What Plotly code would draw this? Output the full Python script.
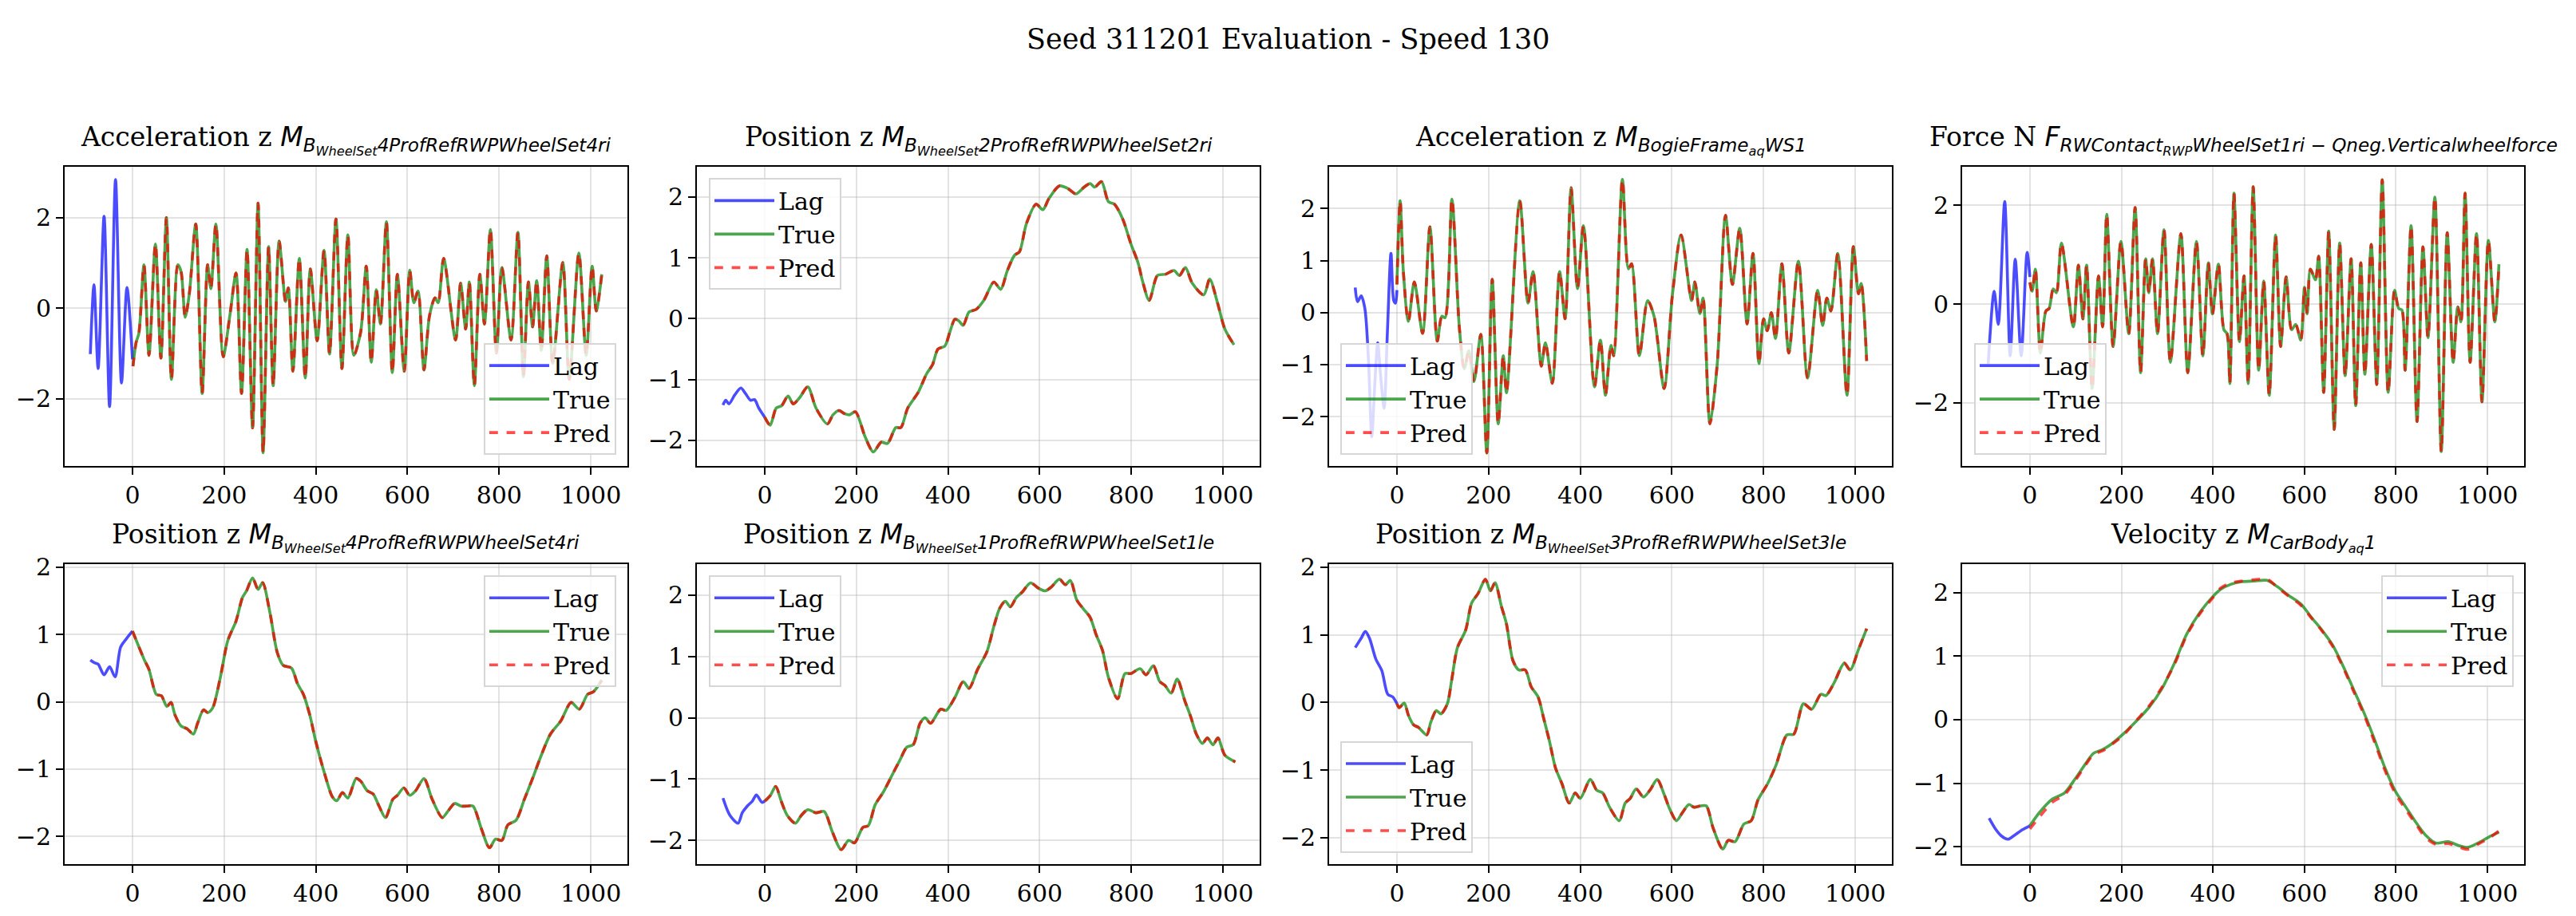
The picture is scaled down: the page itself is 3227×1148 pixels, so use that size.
import plotly.graph_objects as go

SUPTITLE = "Seed 311201 Evaluation - Speed 130"
X_TICKS = [0, 200, 400, 600, 800, 1000]

# ---------------- Plot 1 ----------------
P1_LAG_X = [-92, -84, -75, -62, -50, -37, -24, -12, 0]
P1_LAG_Y = [-1.01, 0.52, -1.33, 2.03, -2.17, 2.84, -1.65, 0.46, -1.13]
P1_TRUE_X = [1, 8, 14, 25, 36, 50, 62, 74, 85, 99, 106, 115, 124, 138, 152, 164, 171, 182, 198, 213, 226, 238, 250,
             262, 274, 285, 297, 307, 320, 334, 340, 350, 364, 377, 388, 403, 418, 430, 444, 457, 470, 483, 498, 510,
             521, 532, 541, 554, 567, 578, 593, 605, 614, 623, 636, 648, 660, 667, 679, 705, 716, 727, 735, 746, 758,
             768, 781, 794, 806, 826, 841, 853, 864, 873, 882, 892, 904, 917, 939, 953, 974, 990, 1003, 1012, 1024]
P1_TRUE_Y = [-1.28, -0.75, -0.55, 0.96, -1.04, 1.42, -1.10, 2.00, -1.57, 0.96, 0.81, -0.20, 0.32, 1.86, -1.88, 0.96,
             0.43, 1.86, -1.07, -0.12, 0.78, -1.88, 1.30, -2.64, 2.32, -3.19, 1.36, -1.71, 1.48, 0.15, 0.45, -1.39,
             1.10, -1.54, 0.87, -0.72, 1.28, -1.01, 1.97, -1.33, 1.62, -1.04, -0.52, 0.93, -1.19, 0.41, -0.35, 1.91,
             -1.42, 0.75, -1.39, 0.84, 0.12, 0.38, -1.36, -0.17, 0.23, 0.12, 1.10, -0.70, 0.55, -0.46, 0.58, -1.71,
             0.75, -0.35, 1.74, -0.99, 0.90, -0.70, 1.68, -1.51, 0.58, -0.41, 0.61, -0.93, 1.16, -1.22, 1.01, -1.57,
             1.22, -1.04, 0.93, -0.06, 0.75]

# ---------------- Plot 2 ----------------
P2_LAG_X = [-91, -85, -78, -65, -52, -42, -31, -22, -13, 0]
P2_LAG_Y = [-1.42, -1.34, -1.40, -1.25, -1.14, -1.23, -1.34, -1.33, -1.47, -1.62]
P2_TRUE_X = [0, 12, 25, 37, 51, 62, 76, 94, 112, 137, 149, 162, 174, 185, 198, 219, 237, 254, 268, 286, 297, 312,
             335, 353, 366, 378, 393, 404, 415, 424, 433, 446, 461, 478, 500, 515, 529, 545, 556, 571, 592, 607, 620,
             643, 661, 679, 697, 710, 720, 735, 750, 763, 781, 799, 815, 824, 839, 857, 875, 893, 905, 918, 933, 958,
             971, 988, 1004, 1024]
P2_TRUE_Y = [-1.62, -1.75, -1.47, -1.43, -1.27, -1.40, -1.30, -1.12, -1.47, -1.73, -1.58, -1.51, -1.56, -1.58,
             -1.53, -1.94, -2.19, -2.03, -2.05, -1.79, -1.79, -1.47, -1.21, -0.91, -0.76, -0.50, -0.45, -0.22, -0.01,
             -0.04, -0.11, 0.11, 0.15, 0.30, 0.60, 0.48, 0.78, 1.04, 1.10, 1.56, 1.88, 1.79, 1.97, 2.18, 2.14, 2.05,
             2.16, 2.22, 2.16, 2.25, 1.92, 1.88, 1.64, 1.23, 0.91, 0.63, 0.30, 0.71, 0.73, 0.79, 0.71, 0.84, 0.58,
             0.39, 0.65, 0.26, -0.17, -0.43]

# ---------------- Plot 3 ----------------
P3_LAG_X = [-91, -86, -78, -70, -62, -55, -48, -42, -36, -28, -21, -13, -7, -3, 0]
P3_LAG_Y = [0.48, 0.21, 0.32, 0.08, -0.93, -2.39, -1.33, -0.58, -1.18, -1.84, -0.42, 1.14, 0.23, 0.18, 0.43]
P3_TRUE_X = [0, 7, 14, 25, 38, 56, 72, 88, 98, 105, 120, 136, 147, 157, 168, 183, 196, 208, 221, 232, 239, 268,
             286, 297, 315, 324, 339, 355, 367, 380, 394, 407, 431, 444, 455, 467, 473, 492, 505, 512, 529, 547, 561,
             583, 601, 620, 643, 650, 661, 668, 683, 699, 717, 732, 748, 764, 777, 790, 800, 808, 817, 826, 840, 855,
             876, 896, 918, 929, 938, 947, 962, 982, 996, 1007, 1013, 1025]
P3_TRUE_Y = [0.54, 2.15, 0.79, -0.17, 0.59, -0.40, 1.65, -0.55, -0.07, -0.10, 2.18, -0.27, -1.08, -0.73, -1.33,
             -0.42, -2.70, 0.64, -2.14, -0.83, -1.54, 2.15, 0.18, 0.79, -1.03, -0.58, -1.36, 0.79, -0.12, 2.40, 0.46,
             1.67, -1.43, -0.53, -1.59, -0.63, -0.83, 2.56, 0.84, 0.94, -0.83, 0.23, -0.07, -1.46, 0.33, 1.49, 0.23,
             0.59, -0.02, 0.28, -2.14, -0.98, 1.87, 0.54, 1.62, -0.22, 1.14, -0.98, -0.12, -0.35, 0.0, -0.50, 0.94,
             -0.78, 0.99, -1.26, 0.43, -0.25, 0.28, 0.03, 1.14, -1.59, 1.27, 0.36, 0.56, -0.93]

# ---------------- Plot 4 ----------------
P4_LAG_X = [-91, -78, -69, -55, -43, -32, -19, -6, 0]
P4_LAG_Y = [-1.21, 0.26, -0.41, 2.08, -1.05, 0.91, -1.05, 1.05, 0.55]
P4_TRUE_X = [0, 5, 12, 23, 35, 42, 51, 58, 69, 95, 106, 116, 124, 136, 150, 159, 168, 182, 199, 216, 230, 242,
             253, 260, 268, 279, 293, 307, 330, 345, 364, 378, 390, 399, 412, 424, 431, 437, 446, 458, 468, 477, 488,
             500, 511, 523, 537, 548, 560, 572, 581, 592, 600, 606, 613, 624, 631, 642, 653, 665, 677, 689, 702, 712,
             723, 732, 746, 758, 770, 783, 797, 806, 813, 820, 833, 846, 859, 870, 885, 899, 912, 925, 935, 942, 951,
             962, 976, 988, 1002, 1016, 1025]
P4_TRUE_Y = [0.44, 0.26, 0.71, -0.99, -0.14, -0.09, 0.31, 0.23, 1.24, -0.46, 0.79, -0.30, 0.79, -1.71, 0.57, -0.46,
             1.82, -0.86, 1.27, -0.60, 1.96, -1.39, 0.92, 0.23, 0.92, -0.60, 1.51, -1.18, 1.43, -1.39, 1.27, -1.05,
             0.84, -0.20, 0.81, -0.52, -0.60, -1.61, 2.25, -0.76, 0.57, -1.61, 2.38, -1.34, 0.47, -1.85, 1.40, -0.86,
             0.55, -0.52, -0.41, -0.73, 0.34, -0.20, 0.71, 0.49, 0.97, -1.79, 1.48, -2.54, 1.24, -1.45, 0.92, -2.06,
             0.84, -1.42, 1.21, -1.63, 2.52, -1.79, 0.28, -0.09, -0.12, -1.34, 1.59, -2.38, 1.16, -0.68, 2.17, -2.99,
             1.45, -1.18, -0.06, -0.36, 2.25, -1.18, 1.43, -1.98, 1.29, -0.36, 0.81]

# ---------------- Plot 5 ----------------
P5_LAG_X = [-92, -83, -75, -62, -50, -38, -26, -14, 0]
P5_LAG_Y = [0.62, 0.58, 0.56, 0.40, 0.52, 0.37, 0.81, 0.93, 1.05]
P5_TRUE_X = [0, 12, 26, 36, 52, 63, 75, 84, 93, 106, 119, 133, 142, 155, 164, 175, 191, 208, 226, 240, 249, 262,
             274, 284, 300, 316, 329, 347, 360, 373, 387, 400, 418, 436, 446, 458, 470, 488, 498, 512, 525, 538, 552,
             568, 578, 592, 605, 618, 636, 654, 676, 690, 703, 717, 730, 743, 761, 779, 792, 806, 819, 837, 855, 873,
             890, 912, 935, 957, 975, 993, 1006, 1024]
P5_TRUE_Y = [1.05, 0.85, 0.62, 0.48, 0.11, 0.09, -0.07, -0.01, -0.20, -0.36, -0.40, -0.48, -0.32, -0.12, -0.16,
             -0.09, 0.34, 0.91, 1.20, 1.55, 1.65, 1.84, 1.67, 1.77, 1.32, 0.73, 0.54, 0.50, 0.27, 0.11, -0.20, -0.59,
             -1.04, -1.41, -1.47, -1.35, -1.43, -1.14, -1.18, -1.32, -1.37, -1.55, -1.72, -1.45, -1.39, -1.28, -1.39,
             -1.32, -1.14, -1.45, -1.72, -1.61, -1.51, -1.55, -1.55, -1.55, -1.88, -2.17, -2.04, -2.06, -1.83, -1.76,
             -1.45, -1.14, -0.83, -0.48, -0.28, -0.01, -0.11, 0.11, 0.15, 0.32]

# ---------------- Plot 6 ----------------
P6_LAG_X = [-91, -76, -58, -49, -38, -27, -18, -6, 0]
P6_LAG_Y = [-1.31, -1.59, -1.72, -1.55, -1.44, -1.36, -1.26, -1.38, -1.36]
P6_TRUE_X = [0, 12, 24, 36, 49, 67, 80, 94, 112, 130, 147, 167, 183, 196, 214, 226, 241, 259, 277, 295, 310, 324,
             339, 350, 362, 384, 396, 415, 433, 446, 464, 485, 500, 513, 525, 536, 549, 562, 580, 598, 612, 625, 643,
             656, 667, 681, 696, 710, 723, 737, 750, 770, 786, 799, 819, 832, 848, 862, 873, 887, 900, 917, 929, 942,
             955, 966, 978, 989, 1004, 1027]
P6_TRUE_Y = [-1.36, -1.27, -1.12, -1.36, -1.59, -1.72, -1.59, -1.50, -1.55, -1.53, -1.85, -2.15, -2.00, -2.04,
             -1.79, -1.76, -1.42, -1.21, -0.95, -0.69, -0.48, -0.44, -0.09, 0.0, -0.09, 0.14, 0.12, 0.33, 0.59, 0.48,
             0.78, 1.08, 1.49, 1.79, 1.90, 1.81, 1.96, 2.05, 2.20, 2.11, 2.07, 2.13, 2.26, 2.17, 2.24, 1.92, 1.77,
             1.64, 1.36, 1.10, 0.66, 0.31, 0.72, 0.72, 0.80, 0.70, 0.85, 0.59, 0.53, 0.40, 0.63, 0.27, 0.03, -0.27,
             -0.42, -0.33, -0.44, -0.33, -0.61, -0.72]

# ---------------- Plot 7 ----------------
P7_LAG_X = [-91, -78, -69, -60, -46, -33, -20, -9, 0]
P7_LAG_Y = [0.81, 0.95, 1.05, 0.95, 0.64, 0.47, 0.12, 0.08, -0.02]
P7_TRUE_X = [0, 5, 16, 25, 36, 47, 65, 74, 86, 96, 110, 119, 132, 150, 163, 177, 193, 204, 214, 228, 239, 253, 266,
             280, 293, 308, 320, 333, 346, 360, 376, 389, 400, 422, 436, 449, 464, 485, 498, 509, 522, 538, 552, 568,
             583, 596, 610, 623, 637, 648, 663, 675, 690, 711, 723, 738, 757, 773, 788, 809, 827, 851, 866, 887, 905,
             925, 936, 954, 976, 989, 1007, 1025]
P7_TRUE_Y = [-0.02, -0.08, -0.01, -0.19, -0.33, -0.37, -0.48, -0.29, -0.12, -0.17, -0.02, 0.31, 0.81, 1.07, 1.47,
             1.61, 1.82, 1.65, 1.77, 1.42, 1.16, 0.62, 0.48, 0.48, 0.23, 0.08, -0.23, -0.58, -0.97, -1.20, -1.49,
             -1.34, -1.42, -1.14, -1.30, -1.34, -1.55, -1.75, -1.49, -1.42, -1.28, -1.40, -1.30, -1.14, -1.36, -1.59,
             -1.75, -1.63, -1.51, -1.55, -1.53, -1.53, -1.86, -2.17, -2.04, -2.06, -1.80, -1.75, -1.44, -1.20, -0.93,
             -0.48, -0.47, -0.02, -0.10, 0.12, 0.10, 0.29, 0.58, 0.48, 0.78, 1.09]

# ---------------- Plot 8 ----------------
P8_LAG_X = [-89, -76, -62, -48, -34, -16, 0]
P8_LAG_Y = [-1.55, -1.71, -1.83, -1.88, -1.82, -1.73, -1.67]
P8_TRUE_X = [0, 21, 49, 76, 100, 123, 139, 159, 177, 205, 233, 260, 288, 316, 343, 371, 398, 417, 440, 463, 491,
             518, 541, 564, 592, 615, 638, 661, 684, 707, 730, 753, 776, 799, 822, 845, 864, 887, 914, 937, 956, 979,
             1002, 1025]
P8_TRUE_Y = [-1.67, -1.46, -1.25, -1.15, -0.92, -0.68, -0.53, -0.47, -0.39, -0.22, -0.02, 0.19, 0.48, 0.89, 1.35,
             1.68, 1.92, 2.05, 2.13, 2.17, 2.18, 2.19, 2.09, 1.96, 1.82, 1.61, 1.41, 1.18, 0.85, 0.48, 0.11, -0.31,
             -0.76, -1.13, -1.38, -1.63, -1.81, -1.94, -1.92, -1.98, -2.01, -1.94, -1.85, -1.77]
P8_PRED_Y = [-1.72, -1.53, -1.30, -1.18, -0.95, -0.70, -0.55, -0.49, -0.40, -0.24, -0.01, 0.21, 0.50, 0.87, 1.33,
             1.66, 1.90, 2.07, 2.15, 2.18, 2.20, 2.21, 2.08, 1.95, 1.80, 1.60, 1.40, 1.16, 0.83, 0.45, 0.08, -0.35,
             -0.80, -1.17, -1.42, -1.66, -1.85, -1.96, -1.95, -2.00, -2.04, -1.96, -1.87, -1.75]

TITLE_SUBS = [
    ("Acceleration z ", "B", "WheelSet", "4ProfRefRWPWheelSet4ri"),
    ("Position z ", "B", "WheelSet", "2ProfRefRWPWheelSet2ri"),
    ("Acceleration z ", "BogieFrame", "aq", "WS1"),
    ("Force N ", "RWContact", "RWP", "WheelSet1ri − Qneg.Verticalwheelforce"),
    ("Position z ", "B", "WheelSet", "4ProfRefRWPWheelSet4ri"),
    ("Position z ", "B", "WheelSet", "1ProfRefRWPWheelSet1le"),
    ("Position z ", "B", "WheelSet", "3ProfRefRWPWheelSet3le"),
    ("Velocity z ", "CarBody", "aq", "1"),
]
SYMBOLS = ["M", "M", "M", "F", "M", "M", "M", "M"]

PLOTS = [
    (P1_LAG_X, P1_LAG_Y, P1_TRUE_X, P1_TRUE_Y, P1_TRUE_Y),
    (P2_LAG_X, P2_LAG_Y, P2_TRUE_X, P2_TRUE_Y, P2_TRUE_Y),
    (P3_LAG_X, P3_LAG_Y, P3_TRUE_X, P3_TRUE_Y, P3_TRUE_Y),
    (P4_LAG_X, P4_LAG_Y, P4_TRUE_X, P4_TRUE_Y, P4_TRUE_Y),
    (P5_LAG_X, P5_LAG_Y, P5_TRUE_X, P5_TRUE_Y, P5_TRUE_Y),
    (P6_LAG_X, P6_LAG_Y, P6_TRUE_X, P6_TRUE_Y, P6_TRUE_Y),
    (P7_LAG_X, P7_LAG_Y, P7_TRUE_X, P7_TRUE_Y, P7_TRUE_Y),
    (P8_LAG_X, P8_LAG_Y, P8_TRUE_X, P8_TRUE_Y, P8_PRED_Y),
]

Y_RANGES = [[-3.48, 3.13], [-2.42, 2.5], [-2.95, 2.81], [-3.28, 2.79],
            [-2.41, 2.04], [-2.385, 2.5], [-2.39, 2.04], [-2.27, 2.44]]
Y_TICKS = [[-2, 0, 2], [-2, -1, 0, 1, 2], [-2, -1, 0, 1, 2], [-2, 0, 2],
           [-2, -1, 0, 1, 2], [-2, -1, 0, 1, 2], [-2, -1, 0, 1, 2], [-2, -1, 0, 1, 2]]

W, H = 3227, 1148
X_DOMAINS = [[81 / W, 786 / W], [873 / W, 1578 / W], [1665 / W, 2370 / W], [2458 / W, 3162 / W]]
Y_DOMAINS = [[1 - 577 / H, 1 - 197 / H], [1 - 1082 / H, 1 - 702 / H]]

# legend positions: (x, y, xanchor, yanchor)
LEGEND_POS = [
    (772 / W, 1 - 563 / H, "right", "bottom"),
    (888 / W, 1 - 212 / H, "left", "top"),
    (1679 / W, 1 - 563 / H, "left", "bottom"),
    (2473 / W, 1 - 563 / H, "left", "bottom"),
    (772 / W, 1 - 716 / H, "right", "top"),
    (888 / W, 1 - 716 / H, "left", "top"),
    (1679 / W, 1 - 1068 / H, "left", "bottom"),
    (3149 / W, 1 - 716 / H, "right", "top"),
]

SERIF = "DejaVu Serif"
SANS = "DejaVu Sans"
LAG_C = "rgba(0,0,255,0.7)"
TRUE_C = "rgba(0,128,0,0.7)"
PRED_C = "rgba(255,0,0,0.7)"
LW = 3.6
TICK_FS = 30
LEG_FS = 30
TITLE_FS = 33
SUP_FS = 35

fig = go.Figure()
layout = dict(
    width=W, height=H, margin=dict(l=0, r=0, t=0, b=0),
    paper_bgcolor="white", plot_bgcolor="white",
    font=dict(family=SERIF, size=TICK_FS, color="black"),
    annotations=[], showlegend=True,
)

for i, (lx, ly, tx, ty, py) in enumerate(PLOTS):
    n = i + 1
    xa = "x" if n == 1 else f"x{n}"
    ya = "y" if n == 1 else f"y{n}"
    leg = "legend" if n == 1 else f"legend{n}"
    fig.add_trace(go.Scatter(x=lx, y=ly, mode="lines", name="Lag", xaxis=xa, yaxis=ya, legend=leg,
                             line=dict(color=LAG_C, width=LW, shape="spline", smoothing=0.8)))
    fig.add_trace(go.Scatter(x=tx, y=ty, mode="lines", name="True", xaxis=xa, yaxis=ya, legend=leg,
                             line=dict(color=TRUE_C, width=LW, shape="spline", smoothing=0.8)))
    fig.add_trace(go.Scatter(x=tx, y=py, mode="lines", name="Pred", xaxis=xa, yaxis=ya, legend=leg,
                             line=dict(color=PRED_C, width=LW, dash="dash", shape="spline", smoothing=0.8)))

    row, col = divmod(i, 4)
    axis_common = dict(showline=True, mirror=True, linecolor="black", linewidth=2,
                       ticks="outside", ticklen=9, tickwidth=2, tickcolor="black",
                       showgrid=True, gridcolor="rgba(176,176,176,0.35)", gridwidth=2,
                       zeroline=False, tickfont=dict(family=SERIF, size=TICK_FS, color="black"))
    layout["xaxis" if n == 1 else f"xaxis{n}"] = dict(
        domain=X_DOMAINS[col], anchor=ya, range=[-148, 1080], tickvals=X_TICKS,
        ticktext=[str(v) for v in X_TICKS], **axis_common)
    layout["yaxis" if n == 1 else f"yaxis{n}"] = dict(
        domain=Y_DOMAINS[row], anchor=xa, range=Y_RANGES[i], tickvals=Y_TICKS[i],
        ticktext=[("−" + str(-v)) if v < 0 else str(v) for v in Y_TICKS[i]], **axis_common)

    lxp, lyp, xan, yan = LEGEND_POS[i]
    layout[leg] = dict(x=lxp, y=lyp, xanchor=xan, yanchor=yan, xref="paper", yref="paper",
                       bgcolor="rgba(255,255,255,0.8)", bordercolor="#d6d6d6", borderwidth=2,
                       font=dict(family=SERIF, size=LEG_FS, color="black"), tracegroupgap=0,
                       itemwidth=75)

    pre, a, b, c = TITLE_SUBS[i]
    title = (f"{pre}<span style=\"font-family:{SANS}\"><i>{SYMBOLS[i]}</i>"
             f"<sub><i>{a}<sub>{b}</sub>{c}</i></sub></span>")
    layout["annotations"].append(dict(
        text=title, xref="paper", yref="paper",
        x=(X_DOMAINS[col][0] + X_DOMAINS[col][1]) / 2, y=Y_DOMAINS[row][1],
        xanchor="center", yanchor="bottom", yshift=8, showarrow=False,
        font=dict(family=SERIF, size=TITLE_FS, color="black")))

layout["annotations"].append(dict(
    text=SUPTITLE, xref="paper", yref="paper", x=0.5, y=1 - 35 / H,
    xanchor="center", yanchor="middle", showarrow=False,
    font=dict(family=SERIF, size=SUP_FS, color="black")))

fig.update_layout(**layout)
fig.write_html("out.html")
